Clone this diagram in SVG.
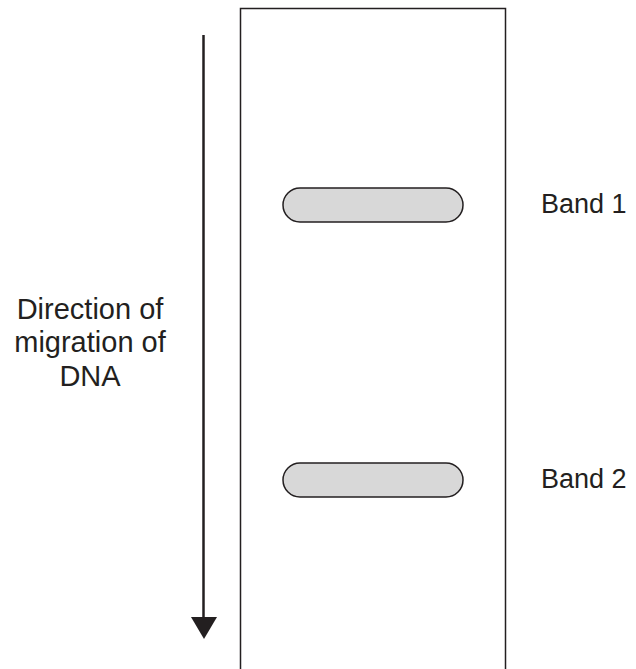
<svg xmlns="http://www.w3.org/2000/svg" width="636" height="669" viewBox="0 0 636 669">
<style>
.lbl{font-family:"Liberation Sans",Arial,sans-serif;font-size:27px;fill:#231f20}
.big{font-size:29px}
.band{fill:#d8d8d8;stroke:#231f20;stroke-width:1.5}
</style>
<rect width="636" height="669" fill="#fff"/>
<g id="gel"><rect x="240.5" y="8.5" width="265" height="680" fill="none" stroke="#231f20" stroke-width="1.5"/></g>
<g id="band1"><rect class="band" x="283" y="188" width="180" height="34" rx="17"/><text class="lbl" x="541" y="213">Band 1</text></g>
<g id="band2"><rect class="band" x="283" y="463" width="180" height="34" rx="17"/><text class="lbl" x="541" y="488">Band 2</text></g>
<g id="label"><text class="lbl big" text-anchor="middle" x="90" y="319">Direction of</text><text class="lbl big" text-anchor="middle" x="90" y="352">migration of</text><text class="lbl big" text-anchor="middle" x="90" y="386">DNA</text></g>
<g id="connectors"><line x1="203.5" y1="35" x2="203.5" y2="620" stroke="#231f20" stroke-width="2.5"/><polygon points="191,617 217,617 204,639" fill="#231f20"/></g>
</svg>
